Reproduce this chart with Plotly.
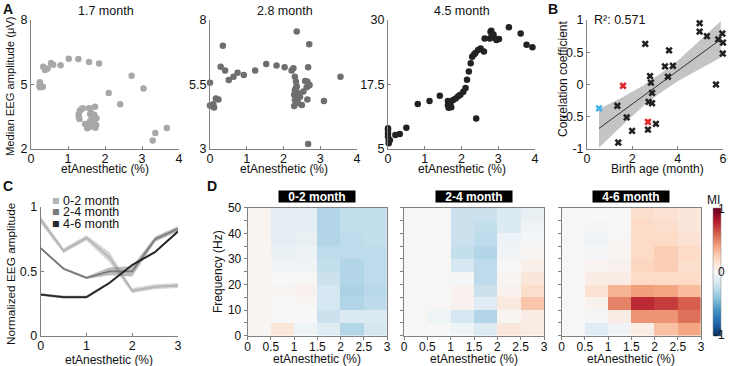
import plotly.graph_objects as go
import numpy as np

FONT = "Liberation Sans, Arial, sans-serif"
W, H = 732, 366

# ---------------- Panel A data ----------------
a1_x = [0.24, 0.23, 0.24, 0.32, 0.33, 0.38, 0.45, 0.54, 0.60, 0.80, 1.02, 1.28, 1.57, 1.84,
        2.72, 3.04, 2.10, 2.41, 3.29, 3.36, 3.67,
        1.36, 1.32, 1.29, 1.29, 1.31, 1.46, 1.52, 1.59, 1.57, 1.73, 1.60, 1.64, 1.68, 1.71,
        1.76, 1.67, 1.59, 1.71, 1.77, 1.74, 1.40, 1.62]
a1_y = [5.10, 4.95, 4.87, 4.90, 5.83, 5.67, 5.75, 6.00, 5.92, 5.90, 6.20, 6.19, 6.05, 5.98,
        5.41, 4.81, 4.60, 4.08, 2.39, 2.74, 2.98,
        3.85, 3.78, 3.62, 3.49, 3.39, 3.16, 2.96, 3.04, 3.89, 3.97, 3.62, 3.49, 3.36, 3.20,
        3.12, 3.07, 3.28, 3.59, 3.43, 2.99, 3.90, 3.70]

a2_x = [0.00, 0.00, 0.05, 0.11, 0.09, 0.16, 0.23, 0.35, 0.29, 0.41, 0.51, 0.64, 0.75, 0.92,
        1.23, 1.53, 1.81, 2.03, 2.22, 2.27, 2.36, 2.70, 2.67, 2.68, 3.55, 3.10, 2.65, 2.50,
        2.67, 2.31, 2.34, 2.36, 2.31, 2.29, 2.31, 2.29, 2.38, 2.45, 2.54, 2.63, 2.71, 2.59,
        2.65, 2.40, 2.36, 2.34, 2.39]
a2_y = [5.57, 4.69, 4.67, 4.61, 4.73, 4.96, 4.92, 7.00, 6.19, 6.04, 5.67, 5.80, 5.96, 5.87,
        6.04, 6.29, 6.24, 6.17, 6.04, 6.13, 7.55, 7.06, 6.17, 5.45, 5.80, 4.86, 4.92, 4.71,
        3.19, 5.80, 5.61, 5.42, 5.29, 5.10, 4.90, 4.67, 4.77, 5.03, 5.23, 5.39, 5.48, 5.64,
        5.61, 5.16, 5.00, 5.36, 4.90]

a3_x = [0.00, 0.00, 0.00, 0.02, 0.02, 0.05, 0.00, 0.20, 0.32, 0.50, 0.81, 1.13, 1.41,
        1.63, 1.63, 1.65, 1.70, 1.77, 1.84, 1.91, 1.97, 2.05, 2.11, 2.15, 2.20, 2.25, 2.29,
        2.34, 2.38, 2.45, 2.52, 2.61, 2.40, 1.68, 1.72, 2.63, 2.77, 2.79, 2.81, 2.82, 2.87,
        2.88, 2.95, 3.02, 3.29, 3.61, 3.77, 3.93]
a3_y = [8.7, 8.0, 7.4, 6.75, 6.1, 6.7, 9.0, 7.7, 7.9, 9.1, 13.7, 14.3, 15.3,
        14.3, 13.5, 13.0, 13.8, 14.5, 14.8, 15.2, 15.5, 16.1, 16.8, 18.4, 20.0, 21.6, 22.9,
        23.3, 23.6, 24.2, 24.5, 23.9, 10.9, 13.6, 13.1, 26.4, 26.4, 27.7, 27.9, 26.8, 27.2,
        26.6, 26.1, 26.3, 28.6, 27.4, 25.2, 24.7]
a_titles = ["1.7 month", "2.8 month", "4.5 month"]

# ---------------- Panel B data ----------------
b_x = [4.97, 4.97, 5.29, 5.79, 5.97, 6.00, 5.99, 5.69, 2.57, 3.62, 3.44, 3.79, 3.57,
       2.78, 2.82, 2.87, 2.72, 2.87, 1.34, 1.75, 1.99, 2.69, 3.04, 1.38]
b_y = [0.95, 0.82, 0.75, 0.70, 0.79, 0.65, 0.48, 0.00, 0.63, 0.53, 0.28, 0.29, 0.12,
       0.13, 0.03, -0.13, -0.27, -0.29, -0.33, -0.51, -0.72, -0.70, -0.61, -0.90]
b_red_x = [1.59, 2.69]
b_red_y = [-0.02, -0.58]
b_cyan_x = [0.53]
b_cyan_y = [-0.37]
fit_x = [0.53, 1.5, 2.5, 3.2, 4.0, 5.0, 5.9]
fit_y = [-0.68, -0.43, -0.17, 0.01, 0.21, 0.47, 0.70]
fit_hi = [-0.38, -0.21, -0.01, 0.16, 0.37, 0.69, 0.98]
fit_lo = [-0.98, -0.65, -0.33, -0.14, 0.05, 0.25, 0.42]
r2_text = "R²: 0.571"

# ---------------- Panel C data ----------------
c_x = [0, 0.5, 1, 1.5, 2, 2.5, 3]
c_groups = ["0-2 month", "2-4 month", "4-6 month"]
c_mean = [
    [0.90, 0.66, 0.76, 0.61, 0.35, 0.38, 0.39],
    [0.68, 0.52, 0.45, 0.50, 0.50, 0.75, 0.83],
    [0.32, 0.30, 0.30, 0.41, 0.55, 0.65, 0.81],
]
c_sem = [
    [0.03, 0.02, 0.02, 0.04, 0.02, 0.02, 0.02],
    [0.01, 0.01, 0.01, 0.03, 0.04, 0.02, 0.02],
    [0.01, 0.01, 0.01, 0.01, 0.01, 0.01, 0.01],
]
c_line = ["#b4b4b4", "#7a7a7a", "#262626"]
c_fill = ["rgba(180,180,180,0.55)", "rgba(122,122,122,0.5)", "rgba(38,38,38,0.45)"]

# ---------------- Panel D data ----------------
d_x = [0.25, 0.75, 1.25, 1.75, 2.25, 2.75]          # etAnesthetic bin centres
d_y = [2.5, 7.5, 12.5, 17.5, 22.5, 27.5, 32.5, 37.5, 42.5, 47.5]  # frequency bin centres
d_titles = ["0-2 month", "2-4 month", "4-6 month"]
# each list: one etAnesthetic bin, MI from low to high frequency
d1_cols = [
    [0.02, 0.02, 0.02, 0.02, 0.02, 0.02, 0.02, 0.02, 0.03, 0.03],
    [0.12, 0.00, 0.00, 0.02, 0.00, -0.03, -0.07, -0.10, -0.10, -0.10],
    [-0.05, 0.00, 0.01, 0.04, 0.01, -0.04, -0.06, -0.08, -0.10, -0.10],
    [-0.12, -0.22, -0.18, -0.18, -0.22, -0.24, -0.26, -0.30, -0.30, -0.30],
    [-0.30, -0.15, -0.30, -0.32, -0.30, -0.30, -0.26, -0.26, -0.24, -0.24],
    [-0.18, -0.15, -0.26, -0.28, -0.26, -0.26, -0.26, -0.24, -0.24, -0.24],
]
d2_cols = [
    [0.01, 0.01, 0.01, 0.01, 0.01, 0.01, 0.01, 0.01, 0.01, 0.01],
    [0.00, -0.05, 0.01, 0.01, 0.01, 0.01, 0.01, 0.01, 0.01, 0.01],
    [-0.05, -0.18, 0.04, 0.04, -0.02, -0.18, -0.24, -0.22, -0.22, -0.22],
    [-0.14, -0.30, -0.12, -0.22, -0.26, -0.26, -0.30, -0.26, -0.24, -0.22],
    [0.12, 0.02, 0.10, 0.04, 0.02, 0.00, -0.03, -0.06, -0.14, -0.14],
    [0.08, 0.08, 0.28, 0.18, 0.12, 0.06, 0.02, -0.02, -0.04, -0.08],
]
d3_cols = [
    [0.01, 0.01, 0.01, 0.01, 0.01, 0.01, 0.01, 0.01, 0.01, 0.01],
    [-0.12, -0.02, 0.04, 0.15, 0.08, 0.03, -0.02, -0.05, -0.02, 0.00],
    [-0.03, 0.08, 0.50, 0.35, 0.08, 0.04, 0.02, 0.01, 0.00, 0.00],
    [0.07, 0.45, 0.75, 0.42, 0.20, 0.22, 0.20, 0.20, 0.20, 0.18],
    [0.30, 0.45, 0.70, 0.40, 0.20, 0.25, 0.25, 0.20, 0.18, 0.15],
    [0.40, 0.55, 0.60, 0.32, 0.20, 0.18, 0.20, 0.15, 0.12, 0.12],
]
cbar_ticks = ["1", "0", "-1"]

rdbu_r = [
    [0.0, "rgb(5,48,97)"], [0.1, "rgb(33,102,172)"], [0.2, "rgb(67,147,195)"],
    [0.3, "rgb(146,197,222)"], [0.4, "rgb(209,229,240)"], [0.5, "rgb(247,247,247)"],
    [0.6, "rgb(253,219,199)"], [0.7, "rgb(244,165,130)"], [0.8, "rgb(214,96,77)"],
    [0.9, "rgb(178,24,43)"], [1.0, "rgb(103,0,31)"],
]

def xd(l, r):
    return [l / W, r / W]

def yd(t, b):
    return [1 - b / H, 1 - t / H]

AXC = "#808080"
fig = go.Figure()

# ---- A ----
a_sets = [(a1_x, a1_y, "#a8a8a8"), (a2_x, a2_y, "#6e6e6e"), (a3_x, a3_y, "#222222")]
for i, (xx, yy, col) in enumerate(a_sets):
    k = "" if i == 0 else str(i + 1)
    fig.add_trace(go.Scatter(x=xx, y=yy, mode="markers", xaxis="x" + k, yaxis="y" + k,
                             marker=dict(size=6.5, color=col), cliponaxis=False,
                             showlegend=False, hoverinfo="skip"))

# ---- B ----
fig.add_trace(go.Scatter(x=fit_x, y=fit_hi, mode="lines", line=dict(width=0, color="#bdbdbd"),
                         xaxis="x4", yaxis="y4", showlegend=False, hoverinfo="skip"))
fig.add_trace(go.Scatter(x=fit_x, y=fit_lo, mode="lines", line=dict(width=0, color="#bdbdbd"),
                         fill="tonexty", fillcolor="#c4c4c4",
                         xaxis="x4", yaxis="y4", showlegend=False, hoverinfo="skip"))
fig.add_trace(go.Scatter(x=fit_x, y=fit_y, mode="lines", line=dict(width=1, color="#333333"),
                         xaxis="x4", yaxis="y4", showlegend=False, hoverinfo="skip"))
for xx, yy, col in [(b_x, b_y, "#222222"), (b_red_x, b_red_y, "#e0262f"),
                    (b_cyan_x, b_cyan_y, "#3fb2e6")]:
    fig.add_trace(go.Scatter(x=xx, y=yy, mode="markers", xaxis="x4", yaxis="y4",
                             marker=dict(symbol="x", size=6.5, color=col), cliponaxis=False,
                             showlegend=False, hoverinfo="skip"))

# ---- C ----
for g in range(3):
    m = np.array(c_mean[g])
    s = np.array(c_sem[g])
    fig.add_trace(go.Scatter(x=c_x, y=m + s, mode="lines", line=dict(width=0),
                             xaxis="x5", yaxis="y5", showlegend=False, hoverinfo="skip"))
    fig.add_trace(go.Scatter(x=c_x, y=m - s, mode="lines", line=dict(width=0),
                             fill="tonexty", fillcolor=c_fill[g],
                             xaxis="x5", yaxis="y5", showlegend=False, hoverinfo="skip"))
    fig.add_trace(go.Scatter(x=c_x, y=m, mode="lines", line=dict(width=1.8, color=c_line[g]),
                             xaxis="x5", yaxis="y5", showlegend=False, name=c_groups[g],
                             hoverinfo="skip"))

# ---- D ----
for j, cols in enumerate([d1_cols, d2_cols, d3_cols]):
    z = np.array(cols).T
    fig.add_trace(go.Heatmap(x=d_x, y=d_y, z=z, zmin=-1, zmax=1, colorscale=rdbu_r,
                             xaxis="x" + str(6 + j), yaxis="y" + str(6 + j),
                             showscale=(j == 2), hoverinfo="skip",
                             colorbar=dict(x=712.5 / W, xanchor="left", thickness=8,
                                           lenmode="pixels", len=128, y=1 - 272 / H,
                                           yanchor="middle", showticklabels=False, ticks="",
                                           outlinewidth=0.5, outlinecolor="#888",
                                           xpad=0, ypad=0)))

tf = dict(size=12.5, family=FONT, color="#111")

def base_axis(domain, anchor, rng, tickvals, ticktext=None, **kw):
    d = dict(domain=domain, anchor=anchor, range=rng, tickvals=tickvals, showgrid=False,
             zeroline=False, showline=True, linecolor=AXC, linewidth=1, ticks="inside",
             ticklen=3, tickcolor=AXC, tickfont=tf, fixedrange=True, automargin=False)
    if ticktext is not None:
        d["ticktext"] = ticktext
    d.update(kw)
    return d

layout = dict(width=W, height=H, margin=dict(l=0, r=0, t=0, b=0, autoexpand=False),
              paper_bgcolor="white",
              plot_bgcolor="white", font=dict(family=FONT, color="#111"), showlegend=False)

ytop, ybot = 20, 149
XS = -2
ax_px = [(31, 179), (210, 357), (388, 535)]
layout["xaxis"] = base_axis(xd(*ax_px[0]), "y", [0, 4], [0, 1, 2, 3, 4], ticklabelstandoff=XS)
layout["yaxis"] = base_axis(yd(ytop, ybot), "x", [2, 8], [2, 5, 8])
layout["xaxis2"] = base_axis(xd(*ax_px[1]), "y2", [0, 4], [0, 1, 2, 3, 4], ticklabelstandoff=XS)
layout["yaxis2"] = base_axis(yd(ytop, ybot), "x2", [3, 8], [3, 5.5, 8])
layout["xaxis3"] = base_axis(xd(*ax_px[2]), "y3", [0, 4], [0, 1, 2, 3, 4], ticklabelstandoff=XS)
layout["yaxis3"] = base_axis(yd(ytop, ybot), "x3", [5, 30], [5, 17.5, 30])
layout["xaxis4"] = base_axis(xd(587, 723), "y4", [0, 6], [0, 2, 4, 6], ticklabelstandoff=XS)
layout["yaxis4"] = base_axis(yd(ytop, ybot), "x4", [-1, 1], [-1, -0.5, 0, 0.5, 1],
                             ["-1", "-0.5", "0", "0.5", "1"])
layout["xaxis5"] = base_axis(xd(40.7, 178), "y5", [0, 3], [0, 1, 2, 3], ticklabelstandoff=XS)
layout["yaxis5"] = base_axis(yd(207, 335.7), "x5", [0, 1], [0, 0.5, 1], ["0", "0.5", "1"])

hx = [(247.7, 387), (404, 544), (561.7, 701)]
for j in range(3):
    n = str(6 + j)
    layout["xaxis" + n] = base_axis(xd(*hx[j]), "y" + n, [0, 3], [0, 0.5, 1, 1.5, 2, 2.5, 3],
                                    ["0", "0.5", "1", "1.5", "2", "2.5", "3"], mirror=True,
                                    ticks="outside", ticklabelstandoff=-3,
                                    tickfont=dict(size=12, family=FONT, color="#111"))
    layout["yaxis" + n] = base_axis(yd(207.7, 335.7), "x" + n, [0, 50],
                                    [0, 5, 10, 15, 20, 25, 30, 35, 40, 45, 50],
                                    ["0", "", "10", "", "20", "", "30", "", "40", "", "50"] if j == 0 else [""] * 11,
                                    mirror=True, ticks="outside",
                                    tickfont=dict(size=12, family=FONT, color="#111"))

fig.update_layout(**layout)

ann = []
def txt(x, y, s, size=12.5, bold=False, **kw):
    a = dict(x=x / W, y=1 - y / H, xref="paper", yref="paper", text=("<b>%s</b>" % s) if bold else s,
             showarrow=False, xanchor="center", yanchor="middle",
             font=dict(size=size, family=FONT, color=kw.pop("color", "#111")))
    a.update(kw)
    ann.append(a)

# panel letters
txt(8, 9, "A", 14, True)
txt(553, 9, "B", 14, True)
txt(8, 186, "C", 14, True)
txt(212, 186, "D", 14, True)
# panel A titles and axis titles
for i in range(3):
    cx = (ax_px[i][0] + ax_px[i][1]) / 2
    txt(cx + 1, 11, a_titles[i])
    txt(cx, 169, "etAnesthetic (%)", 12)
txt(10, 86, "Median EEG amplitude (μV)", 11.2, textangle=-90)
# panel B
txt(592, 20, r2_text, xanchor="left")
txt(657, 169, "Birth age (month)", 12)
txt(563, 79, "Correlation coefficient", 12, textangle=-90)
# panel C
txt(109, 360, "etAnesthetic (%)", 12)
txt(11, 274, "Normalized EEG amplitude", 11.8, textangle=-90)
for g in range(3):
    txt(50, 200.7 + 11.7 * g,
        "<span style='color:%s'>■</span> %s" % (c_line[g], c_groups[g]), 12.5, xanchor="left")
# panel D
for j in range(3):
    cx = (hx[j][0] + hx[j][1]) / 2
    ann.append(dict(x=cx / W, y=1 - 196.5 / H, xref="paper", yref="paper", showarrow=False,
                    xanchor="center", yanchor="middle",
                    text="<b>%s</b>" % d_titles[j], bgcolor="black", width=76, height=11,
                    borderpad=0, font=dict(size=12, family=FONT, color="white")))
    txt(cx, 359, "etAnesthetic (%)", 12)
txt(218, 272, "Frequency (Hz)", 12, textangle=-90)
txt(713, 200, "MI", 12)
for t, yy in zip(cbar_ticks, [209, 272, 335]):
    txt(727, yy, t, 12, xanchor="right")
fig.update_layout(annotations=ann)

fig.write_html("out.html", config={"displayModeBar": False},
               post_script="document.body.style.margin='0';document.body.style.overflow='hidden';")
